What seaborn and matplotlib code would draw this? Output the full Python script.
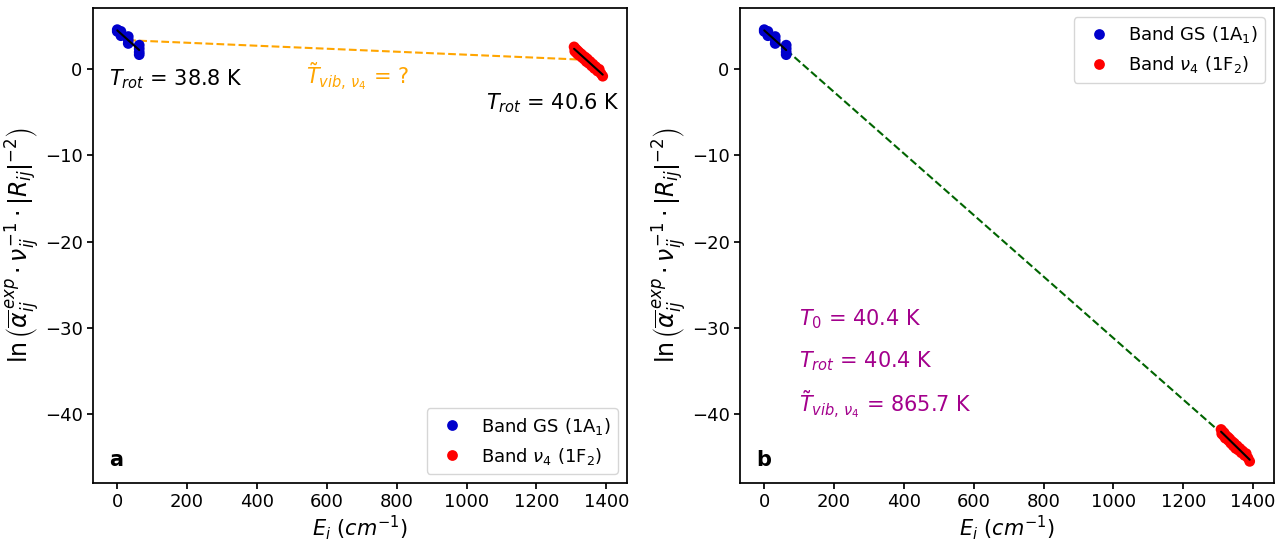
import numpy as np
import pandas as pd
import matplotlib
matplotlib.use("Agg")
import matplotlib.pyplot as plt
import seaborn as sns

# ground state levels (cm-1) and ln values
gs_E = [0, 0, 10.48, 10.48, 10.48, 31.44, 31.44, 31.44, 62.88, 62.88, 62.88, 62.88]
gs_y = [4.6, 4.4, 4.4, 4.1, 3.9, 3.8, 3.4, 3.0, 2.8, 2.4, 2.0, 1.7]

# nu4 band levels
v4_E = [1308, 1310, 1312, 1315, 1317, 1320, 1322, 1325, 1328, 1330, 1333, 1336, 1340,
        1343, 1346, 1350, 1354, 1358, 1362, 1366, 1370, 1375, 1380, 1385, 1390]
v4_y_a = [2.6, 2.1, 2.4, 1.9, 2.2, 1.7, 2.0, 1.6, 1.8, 1.4, 1.6, 1.2, 1.4,
          0.9, 1.2, 0.7, 0.9, 0.4, 0.6, 0.1, 0.3, -0.2, 0.0, -0.5, -0.8]
v4_y_b = [-41.8, -42.3, -42.0, -42.5, -42.2, -42.8, -42.5, -42.9, -42.7, -43.1, -42.9, -43.4, -43.2,
          -43.7, -43.4, -44.0, -43.7, -44.2, -44.0, -44.5, -44.3, -44.8, -44.6, -45.1, -45.5]

gs_label = r"Band GS (1A$_1$)"
v4_label = r"Band $\nu_4$ (1F$_2$)"

sns.set_theme(style="ticks")
plt.rcParams["font.family"] = ["DejaVu Sans"]
plt.rcParams["mathtext.fontset"] = "dejavusans"
plt.rcParams.update({"text.color": "black", "axes.labelcolor": "black",
                     "xtick.color": "black", "ytick.color": "black",
                     "axes.edgecolor": "black"})

blue = "#0000CC"
red = "#FF0000"
purple = "#A3008C"

fig = plt.figure(figsize=(12.88, 5.39), dpi=100)
ax1 = fig.add_axes([0.0722, 0.104, 0.4146, 0.881])
ax2 = fig.add_axes([0.5745, 0.104, 0.4146, 0.881], sharey=ax1)


def fit_line(ax, x, y):
    p = np.polyfit(x, y, 1)
    xs = np.array([min(x), max(x)])
    ax.plot(xs, np.polyval(p, xs), color="black", lw=1.5, zorder=4)


def scatter(ax, yv4):
    df = pd.DataFrame({"E": gs_E + v4_E, "y": gs_y + yv4,
                       "band": [gs_label] * len(gs_E) + [v4_label] * len(v4_E)})
    sns.scatterplot(data=df, x="E", y="y", hue="band", palette=[blue, red],
                    s=60, linewidth=0, ax=ax, zorder=3)
    fit_line(ax, gs_E, gs_y)
    fit_line(ax, v4_E, yv4)


scatter(ax1, v4_y_a)
scatter(ax2, v4_y_b)

# panel a: link between band means
ax1.plot([np.mean(gs_E), np.mean(v4_E)], [np.mean(gs_y), np.mean(v4_y_a)],
         ls="--", color="orange", lw=1.5, zorder=2)
ax1.text(-25, -1.1, r"$T_{rot}$ = 38.8 K", fontsize=15, va="center")
ax1.text(540, -0.8, r"$\tilde{T}_{vib,\,\nu_4}$ = ?", fontsize=15, va="center", color="orange")
ax1.text(1055, -3.9, r"$T_{rot}$ = 40.6 K", fontsize=15, va="center")

# panel b: global line
allE = gs_E + v4_E
ally = gs_y + v4_y_b
p = np.polyfit(allE, ally, 1)
xs = np.array([max(gs_E), min(v4_E)])
ax2.plot(xs, np.polyval(p, xs), ls="--", color="darkgreen", lw=1.5, zorder=2)
ax2.text(100, -29.0, r"$T_0$ = 40.4 K", fontsize=15, va="center", color=purple)
ax2.text(100, -33.9, r"$T_{rot}$ = 40.4 K", fontsize=15, va="center", color=purple)
ax2.text(100, -38.9, r"$\tilde{T}_{vib,\,\nu_4}$ = 865.7 K", fontsize=15, va="center", color=purple)

ylab = r"$\ln\left(\overline{\alpha}_{ij}^{\,exp}\cdot\nu_{ij}^{-1}\cdot|R_{ij}|^{-2}\right)$"
for ax, letter, loc in [(ax1, "a", "lower right"), (ax2, "b", "upper right")]:
    ax.set_xlabel(r"$E_i\ (cm^{-1})$", fontsize=15, labelpad=1)
    ax.set_ylabel(ylab, fontsize=17, labelpad=2)
    ax.set_xticks(range(0, 1401, 200))
    ax.set_yticks([0, -10, -20, -30, -40])
    ax.tick_params(labelsize=13, length=4)
    ax.tick_params(axis="y", labelleft=True)
    ax.text(0.03, 0.035, letter, transform=ax.transAxes, fontsize=15, fontweight="bold")
    ax.legend(loc=loc, fontsize=13, markerscale=1.0, handletextpad=0.6)
    for s in ax.spines.values():
        s.set_visible(True)

fig.savefig("out.png", dpi=100)
